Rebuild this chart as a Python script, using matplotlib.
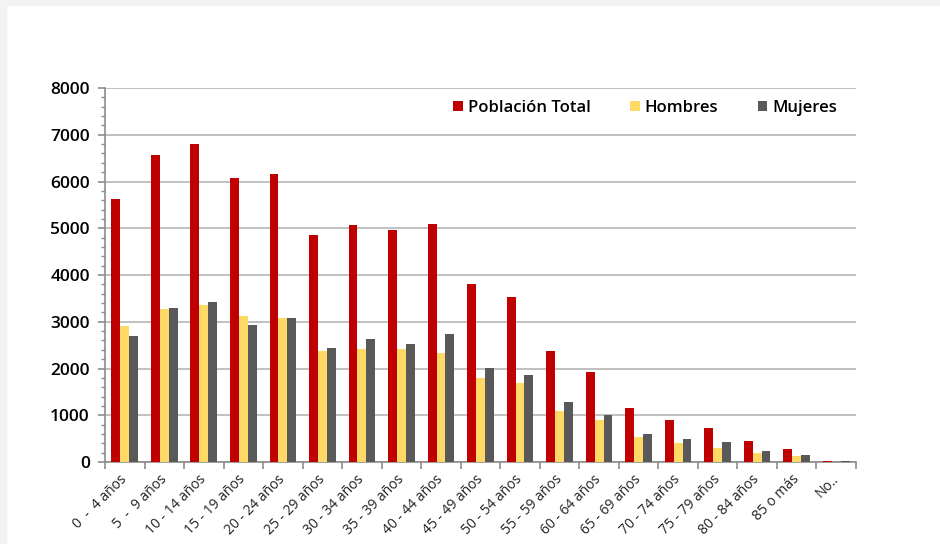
import numpy as np
import matplotlib.pyplot as plt
from matplotlib.patches import Rectangle
from matplotlib.ticker import MultipleLocator

groups = ["0  -  4 años", "5  -  9 años", "10 - 14 años", "15 - 19 años", "20 - 24 años",
          "25 - 29 años", "30 - 34 años", "35 - 39 años", "40 - 44 años", "45 - 49 años",
          "50 - 54 años", "55 - 59 años", "60 - 64 años", "65 - 69 años", "70 - 74 años",
          "75 - 79 años", "80 - 84 años", "85 o más", "No.."]
total = [5620, 6567, 6795, 6075, 6168, 4850, 5071, 4964, 5093, 3805,
         3533, 2379, 1916, 1161, 905, 734, 449, 285, 28]
hombres = [2920, 3276, 3355, 3134, 3091, 2379, 2422, 2422, 2336, 1788,
           1681, 1097, 890, 541, 399, 299, 199, 128, 6]
mujeres = [2690, 3290, 3419, 2934, 3070, 2443, 2635, 2521, 2749, 2009,
           1852, 1282, 1004, 605, 491, 427, 235, 157, 22]

series = [("Población Total", total, "#c00000"),
          ("Hombres", hombres, "#ffd966"),
          ("Mujeres", mujeres, "#595959")]

fig = plt.figure(figsize=(9.4, 5.44), dpi=100)
# light frame at top and left
fig.patches.append(Rectangle((0, 0.991), 1, 0.009, transform=fig.transFigure, color="#f3f3f3", zorder=0))
fig.patches.append(Rectangle((0, 0), 0.0065, 1, transform=fig.transFigure, color="#f3f3f3", zorder=0))

ax = fig.add_axes([0.1117, 0.1507, 0.7989, 0.6875])
x = np.arange(len(groups))
w = 0.225
for i, (name, vals, col) in enumerate(series):
    ax.bar(x + (i - 1) * w, vals, width=w, color=col, label=name, zorder=3)

ax.set_xlim(-0.5, len(groups) - 0.5)
ax.set_ylim(0, 8000)
ax.yaxis.set_major_locator(MultipleLocator(1000))
ax.yaxis.set_minor_locator(MultipleLocator(200))
ax.grid(axis="y", color="#b5b5b5", lw=1.2, zorder=0)
for s in ["top", "right"]:
    ax.spines[s].set_visible(False)
for s in ["left", "bottom"]:
    ax.spines[s].set_color("#8c8c8c")
    ax.spines[s].set_linewidth(1.2)

ax.set_xticks(np.arange(len(groups) + 1) - 0.5, minor=True)
ax.set_xticks(x)
ax.set_xticklabels(groups, rotation=45, ha="right", va="center", rotation_mode="anchor",
                   fontsize=10, family="Open Sans", color="#222222")
ax.tick_params(axis="x", which="major", length=0, pad=11)
ax.tick_params(axis="x", which="minor", length=5, color="#8c8c8c", width=1.2)
ax.tick_params(axis="y", which="major", length=5, color="#8c8c8c", width=1.2,
               labelsize=12.5, pad=6)
ax.tick_params(axis="y", which="minor", length=3, color="#8c8c8c", width=1)
for lab in ax.get_yticklabels():
    lab.set_family("Open Sans")
    lab.set_fontweight("semibold")

leg = ax.legend(loc="upper right", bbox_to_anchor=(0.995, 1.008), ncol=3, frameon=False,
                handlelength=0.55, handleheight=0.55, handletextpad=0.3, columnspacing=2.4,
                prop={"family": "Open Sans", "weight": "semibold", "size": 12})

fig.savefig("out.png", dpi=100, facecolor="white")
